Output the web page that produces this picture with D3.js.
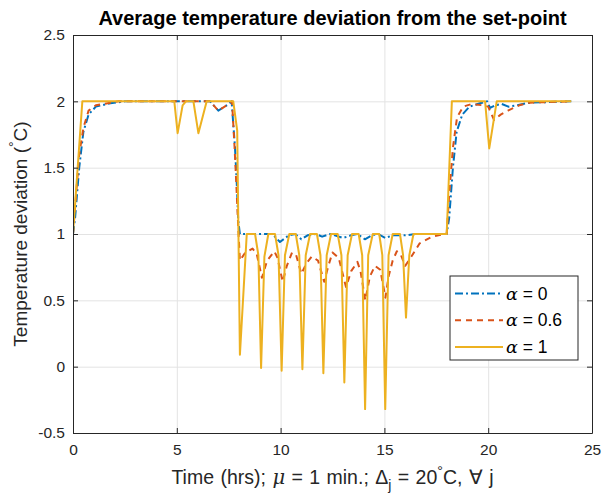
<!DOCTYPE html>
<html>
<head>
<meta charset="utf-8">
<title>Average temperature deviation</title>
<style>
  body { margin: 0; background: #fff; }
  svg { font-family: "Liberation Sans", Arial, sans-serif; }
  .grid line { stroke: #e3e3e3; stroke-width: 1; }
  .grid path { display: none; }
  .axis path, .axis line { stroke: #262626; }
  .axis text { fill: #262626; font-size: 15.5px; }
  .line { fill: none; stroke-width: 2; stroke-linejoin: round; }
</style>
</head>
<body>
<svg width="602" height="498"></svg>
<script src="https://d3js.org/d3.v7.min.js"></script>
<script>

// series values: [time (hrs), deviation]
var alpha0 = [
  [0, 1.0], [0.1, 1.12], [0.3, 1.5], [0.5, 1.77], [0.75, 1.9], [1.1, 1.96], [1.8, 1.985], [2.5, 2.0],
  [6.6, 2.0], [7.0, 1.93], [7.5, 1.98], [7.64, 2.0], [7.8, 1.66], [7.88, 1.41], [7.96, 1.1], [8.04, 1.0],
  [9.6, 1.0], [9.97, 0.94], [10.4, 0.99], [10.7, 1.0], [11.0, 0.96], [11.3, 0.99], [11.7, 1.0],
  [12.0, 0.98], [12.4, 1.0], [13.0, 0.97], [13.4, 0.99], [13.7, 1.0], [14.06, 0.96], [14.4, 0.99],
  [14.7, 1.0], [15.04, 0.97], [15.4, 0.99], [16.0, 0.99], [16.5, 1.0], [18.0, 1.0],
  [18.12, 1.12], [18.3, 1.5], [18.48, 1.77], [18.75, 1.9], [19.1, 1.96], [19.6, 1.985], [19.95, 2.0],
  [20.09, 1.95], [20.33, 1.97], [20.65, 1.98], [20.97, 1.96], [21.37, 1.97], [22.0, 1.99], [24.0, 2.0]
];

var alpha06 = [
  [0, 1.0], [0.1, 1.2], [0.3, 1.6], [0.5, 1.8], [0.75, 1.93], [1.1, 1.97], [1.8, 1.99], [2.2, 2.0],
  [6.6, 2.0], [7.0, 1.93], [7.5, 1.98], [7.66, 2.0], [7.78, 1.66], [7.86, 1.4], [7.96, 1.05], [8.04, 0.8],
  [8.3, 0.86], [8.65, 0.89], [8.85, 0.85], [9.1, 0.67], [9.35, 0.8], [9.7, 0.87], [9.85, 0.82],
  [10.1, 0.64], [10.3, 0.76], [10.55, 0.86], [10.75, 0.84], [11.0, 0.7], [11.25, 0.78], [11.5, 0.83],
  [11.8, 0.8], [12.1, 0.64], [12.3, 0.76], [12.5, 0.86], [12.8, 0.82], [13.15, 0.6], [13.4, 0.72],
  [13.7, 0.79], [13.85, 0.72], [14.08, 0.5], [14.3, 0.68], [14.55, 0.76], [14.8, 0.73], [15.05, 0.52],
  [15.2, 0.68], [15.4, 0.8], [15.6, 0.87], [15.8, 0.84], [16.0, 0.76], [16.3, 0.83], [16.7, 0.93],
  [17.3, 0.98], [17.9, 1.0], [18.0, 1.0], [18.12, 1.3], [18.3, 1.65], [18.5, 1.88], [18.8, 1.96],
  [19.2, 1.98], [19.75, 1.97], [20.0, 1.96], [20.28, 1.86], [20.6, 1.9], [20.95, 1.93], [21.5, 1.97],
  [22.0, 1.99], [24.0, 2.0]
];

var alpha1 = [
  [0, 1.0], [0.45, 2.0], [4.88, 2.0], [5.04, 1.76], [5.28, 1.97], [5.44, 2.0], [5.8, 2.0], [6.04, 1.76],
  [6.44, 2.0], [7.72, 2.0], [7.91, 1.78], [8.04, 0.09], [8.37, 1.0], [8.77, 1.0], [8.93, 0.84],
  [9.06, -0.01], [9.22, 0.83], [9.41, 1.0], [9.73, 1.0], [9.9, 0.84], [10.05, -0.03], [10.21, 0.84],
  [10.42, 1.0], [10.73, 1.0], [10.9, 0.84], [11.05, -0.02], [11.21, 0.84], [11.42, 1.0], [11.75, 1.0],
  [11.92, 0.84], [12.06, -0.05], [12.22, 0.84], [12.43, 1.0], [12.75, 1.0], [12.93, 0.84],
  [13.07, -0.12], [13.23, 0.84], [13.44, 1.0], [13.76, 1.0], [13.93, 0.84], [14.07, -0.32],
  [14.22, 0.84], [14.44, 1.0], [14.75, 1.0], [14.9, 0.84], [15.04, -0.32], [15.2, 0.84], [15.4, 1.0],
  [15.75, 1.0], [15.9, 0.84], [16.04, 0.37], [16.2, 0.84], [16.4, 1.0], [18.0, 1.0], [18.25, 2.0],
  [19.85, 2.0], [20.05, 1.645], [20.41, 2.0], [24.0, 2.0]
];

var seriesNames = ["0", "0.6", "1"];
var seriesColors = ["#0072BD", "#D95319", "#EDB120"];
var seriesDash = ["8,3,2,3", "6,5", null];

var xTicks = [0, 5, 10, 15, 20, 25];
var yTicks = [-0.5, 0, 0.5, 1, 1.5, 2, 2.5];

var svg = d3.select("svg"),
    margin = {top: 35, right: 10, bottom: 65, left: 73},
    width = 592 - margin.left,
    height = 433 - margin.top,
    g = svg.append("g").attr("transform", "translate(" + margin.left + "," + margin.top + ")");

var x = d3.scaleLinear().domain([0, 25]).range([0, width]),
    y = d3.scaleLinear().domain([-0.5, 2.5]).range([height, 0]);

// grid
g.append("g")
    .attr("class", "grid")
    .attr("transform", "translate(0," + height + ")")
    .call(d3.axisBottom(x).tickValues(xTicks).tickSize(-height).tickFormat(""));
g.append("g")
    .attr("class", "grid")
    .call(d3.axisLeft(y).tickValues(yTicks).tickSize(-width).tickFormat(""));

// series
var line = d3.line()
    .x(function(d) { return x(d[0]); })
    .y(function(d) { return y(d[1]); });

var clip = svg.append("clipPath").attr("id", "clip")
    .append("rect").attr("width", width).attr("height", height);

var plot = g.append("g").attr("clip-path", "url(#clip)");
[alpha0, alpha06, alpha1].forEach(function(s, i) {
  plot.append("path")
      .datum(s)
      .attr("class", "line")
      .attr("d", line)
      .style("stroke", seriesColors[i])
      .style("stroke-dasharray", seriesDash[i]);
});

// axes (box with inward ticks)
g.append("g")
    .attr("class", "axis")
    .attr("transform", "translate(0," + height + ")")
    .call(d3.axisBottom(x).tickValues(xTicks).tickSizeInner(-5).tickSizeOuter(0).tickPadding(9))
    .selectAll("text").attr("dy", "0.85em");
g.append("g")
    .attr("class", "axis")
    .call(d3.axisLeft(y).tickValues(yTicks).tickSizeInner(-5).tickSizeOuter(0).tickPadding(8)
      .tickFormat(function(d) { return d; }));
g.append("g")
    .attr("class", "axis")
    .call(d3.axisTop(x).tickValues(xTicks).tickSizeInner(-5).tickSizeOuter(0).tickFormat(""));
g.append("g")
    .attr("class", "axis")
    .attr("transform", "translate(" + width + ",0)")
    .call(d3.axisRight(y).tickValues(yTicks).tickSizeInner(-5).tickSizeOuter(0).tickFormat(""));

// title
svg.append("text")
    .attr("x", margin.left + width / 2)
    .attr("y", 25)
    .attr("text-anchor", "middle")
    .style("font-size", "20px")
    .style("font-weight", "bold")
    .attr("fill", "#000")
    .text("Average temperature deviation from the set-point");

// x label
var xl = svg.append("text")
    .attr("x", margin.left + width / 2)
    .attr("y", 484)
    .attr("text-anchor", "middle")
    .style("font-size", "19.5px")
    .style("word-spacing", "1px")
    .attr("fill", "#262626");
xl.append("tspan").text("Time (hrs); ");
xl.append("tspan").style("font-style", "italic").style("font-family", "'DejaVu Serif', serif").text("\u03bc");
xl.append("tspan").text(" = 1 min.; \u0394");
xl.append("tspan").attr("dy", 6).style("font-size", "14px").text("j");
xl.append("tspan").attr("dy", -6).text(" = 20");
xl.append("tspan").attr("dy", -8).style("font-size", "14px").text("\u00b0");
xl.append("tspan").attr("dy", 8).text("C, \u2200 j");

// y label
var yl = svg.append("text")
    .attr("transform", "translate(27," + (margin.top + height / 2) + ") rotate(-90)")
    .attr("text-anchor", "middle")
    .style("font-size", "19px")
    .attr("fill", "#262626");
yl.append("tspan").text("Temperature deviation (");
yl.append("tspan").attr("dy", -8).style("font-size", "14px").text("\u00b0");
yl.append("tspan").attr("dy", 8).text("C)");

// legend
var lg = svg.append("g").attr("transform", "translate(450,276)");
lg.append("rect")
    .attr("width", 128).attr("height", 84)
    .attr("fill", "#fff").attr("stroke", "#262626").attr("stroke-width", 1);
seriesNames.forEach(function(n, i) {
  var row = lg.append("g").attr("transform", "translate(0," + (17.5 + i * 26.7) + ")");
  row.append("line")
      .attr("x1", 5).attr("x2", 53)
      .attr("stroke", seriesColors[i]).attr("stroke-width", 2)
      .style("stroke-dasharray", seriesDash[i]);
  var t = row.append("text").attr("x", 56).attr("dy", "0.35em")
      .style("font-size", "17.5px").attr("fill", "#000");
  t.append("tspan").style("font-style", "italic").style("font-family", "'DejaVu Serif', serif").text("\u03b1");
  t.append("tspan").text(" = " + n);
});

</script>
</body>
</html>
